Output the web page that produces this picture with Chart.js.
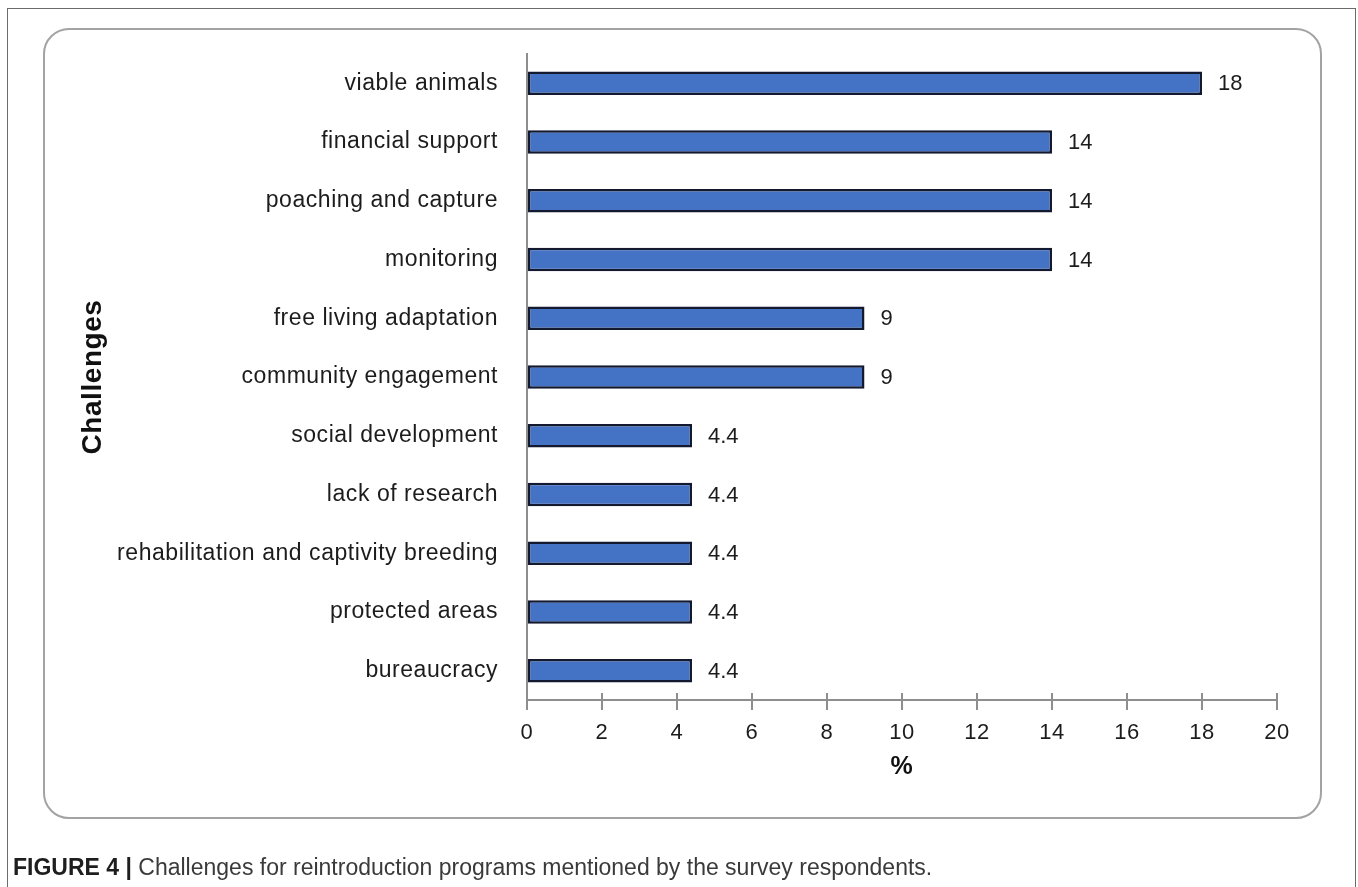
<!DOCTYPE html>
<html>
<head>
<meta charset="utf-8">
<script src="https://cdn.jsdelivr.net/npm/chart.js@4/dist/chart.umd.min.js"></script>
<style>
  html, body { margin: 0; padding: 0; background: #fff; width: 1358px; height: 887px; overflow: hidden; }
  #frame { position: absolute; left: 7px; top: 8px; width: 1349px; height: 900px; border: 1.5px solid #6b6b6b; border-bottom: none; box-sizing: border-box; }
  #panel { position: absolute; left: 43px; top: 28px; width: 1279px; height: 791px; border: 2px solid #a3a3a3; border-radius: 26px; box-sizing: border-box; }
  #chart { position: absolute; left: 0; top: 0; }
  #caption { position: absolute; left: 13px; top: 854px; font-family: "Liberation Sans", Arial, sans-serif; font-size: 23px; color: #3a3a3a; white-space: nowrap; }
  #caption b { color: #1e1e1e; }
</style>
</head>
<body>
<div id="frame"></div>
<div id="panel"></div>
<canvas id="chart" width="1358" height="887"></canvas>
<div id="caption"><b>FIGURE 4 |</b> Challenges for reintroduction programs mentioned by the survey respondents.</div>
<script>
// Challenges named by respondents, share of mentions (%)
const challenges = [
  'viable animals',
  'financial support',
  'poaching and capture',
  'monitoring',
  'free living adaptation',
  'community engagement',
  'social development',
  'lack of research',
  'rehabilitation and captivity breeding',
  'protected areas',
  'bureaucracy'
];
const percentages = [18, 14, 14, 14, 9, 9, 4.4, 4.4, 4.4, 4.4, 4.4];

// Percent axis
const axisMin = 0;
const axisMax = 20;
const axisStep = 2;

const FONT = '"Liberation Sans", Arial, sans-serif';
const AXIS_GREY = '#8e8e8e';

// Letter spacing for the category side; values and percent ticks use none
const spacingPlugin = {
  id: 'spacing',
  beforeDraw(chart) { chart.ctx.letterSpacing = '0.55px'; },
  afterDatasetsDraw(chart) { chart.ctx.letterSpacing = '0px'; }
};

// Value printed to the right of each bar
const valueLabels = {
  id: 'valueLabels',
  afterDatasetsDraw(chart) {
    const ctx = chart.ctx;
    const meta = chart.getDatasetMeta(0);
    ctx.save();
    ctx.letterSpacing = '0px';
    ctx.font = '22px ' + FONT;
    ctx.fillStyle = '#1c1c1c';
    ctx.textAlign = 'left';
    ctx.textBaseline = 'middle';
    meta.data.forEach((bar, i) => {
      ctx.fillText(String(chart.data.datasets[0].data[i]), bar.x + 16, bar.y + 1);
    });
    ctx.restore();
  }
};

// Tick marks crossing the percent axis (upper half)
const crossTicks = {
  id: 'crossTicks',
  afterDraw(chart) {
    const ctx = chart.ctx;
    const sx = chart.scales.x;
    const y0 = chart.chartArea.bottom;
    ctx.save();
    ctx.strokeStyle = AXIS_GREY;
    ctx.lineWidth = 2;
    sx.ticks.forEach(t => {
      const px = Math.round(sx.getPixelForValue(t.value));
      ctx.beginPath();
      ctx.moveTo(px, y0 - 7);
      ctx.lineTo(px, y0);
      ctx.stroke();
    });
    ctx.restore();
  }
};

new Chart(document.getElementById('chart'), {
  type: 'bar',
  data: {
    labels: challenges,
    datasets: [{
      data: percentages,
      backgroundColor: '#4472C4',
      borderColor: '#131a30',
      borderWidth: 2.5,
      borderSkipped: false,
      categoryPercentage: 1,
      barPercentage: 0.4
    }]
  },
  options: {
    indexAxis: 'y',
    responsive: false,
    animation: false,
    devicePixelRatio: 1,
    layout: { padding: { left: 62, top: 54, right: 81, bottom: 87 } },
    plugins: {
      legend: { display: false },
      tooltip: { enabled: false },
      title: { display: false }
    },
    scales: {
      y: {
        type: 'category',
        grid: { display: false },
        border: { display: true, color: AXIS_GREY, width: 2 },
        ticks: { font: { family: FONT, size: 23 }, color: '#1c1c1c', padding: 21 },
        title: { display: true, text: 'Challenges', color: '#111', font: { family: FONT, size: 28, weight: 'bold' }, padding: { top: 14 } },
        afterFit(scale) { scale.width = 465; }
      },
      x: {
        z: 1,
        min: axisMin,
        max: axisMax,
        grid: { display: true, drawOnChartArea: false, drawTicks: true, tickLength: 10, color: AXIS_GREY, lineWidth: 2 },
        border: { display: true, color: AXIS_GREY, width: 2 },
        ticks: { stepSize: axisStep, font: { family: FONT, size: 22 }, color: '#1c1c1c', padding: 10 },
        title: { display: true, text: '%', color: '#111', font: { family: FONT, size: 25, weight: 'bold' }, padding: { bottom: 18 } },
        afterFit(scale) { scale.height = 100; }
      }
    }
  },
  plugins: [spacingPlugin, valueLabels, crossTicks]
});
</script>
</body>
</html>
